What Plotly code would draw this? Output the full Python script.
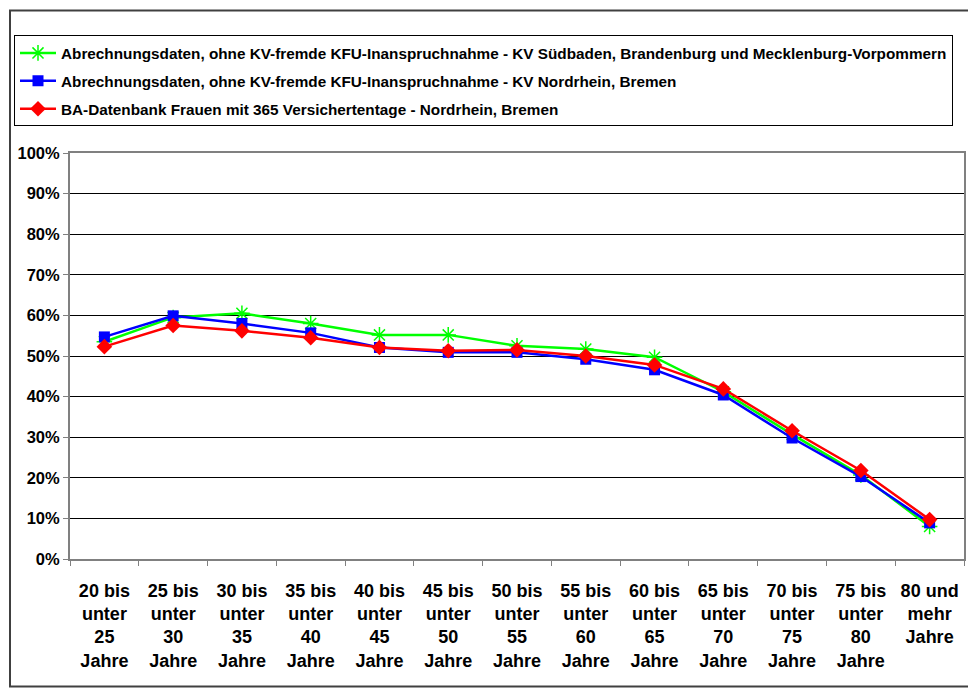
import plotly.graph_objects as go

categories = ["20 bis<br>unter<br>25<br>Jahre", "25 bis<br>unter<br>30<br>Jahre", "30 bis<br>unter<br>35<br>Jahre",
              "35 bis<br>unter<br>40<br>Jahre", "40 bis<br>unter<br>45<br>Jahre", "45 bis<br>unter<br>50<br>Jahre",
              "50 bis<br>unter<br>55<br>Jahre", "55 bis<br>unter<br>60<br>Jahre", "60 bis<br>unter<br>65<br>Jahre",
              "65 bis<br>unter<br>70<br>Jahre", "70 bis<br>unter<br>75<br>Jahre", "75 bis<br>unter<br>80<br>Jahre",
              "80 und<br>mehr<br>Jahre"]

green_name = "Abrechnungsdaten, ohne KV-fremde KFU-Inanspruchnahme - KV Südbaden, Brandenburg und Mecklenburg-Vorpommern"
blue_name = "Abrechnungsdaten, ohne KV-fremde KFU-Inanspruchnahme - KV Nordrhein, Bremen"
red_name = "BA-Datenbank Frauen mit 365 Versichertentage - Nordrhein, Bremen"

green_vals = [0.535, 0.595, 0.605, 0.580, 0.552, 0.552, 0.525, 0.517, 0.497, 0.412, 0.307, 0.207, 0.080]
blue_vals = [0.547, 0.599, 0.580, 0.557, 0.521, 0.509, 0.509, 0.492, 0.466, 0.404, 0.298, 0.203, 0.089]
red_vals = [0.523, 0.575, 0.562, 0.545, 0.521, 0.513, 0.515, 0.500, 0.478, 0.419, 0.316, 0.218, 0.097]

y_ticks = [0, 0.1, 0.2, 0.3, 0.4, 0.5, 0.6, 0.7, 0.8, 0.9, 1.0]

fig = go.Figure()
fig.add_trace(go.Scatter(x=categories, y=green_vals, name=green_name, mode="lines+markers",
                         legendgroup="g",
                         line=dict(color="#00FF00", width=2.5),
                         marker=dict(symbol="asterisk-open", size=13, color="#00FF00",
                                     line=dict(color="#00FF00", width=1.5))))
fig.add_trace(go.Scatter(x=categories, y=blue_vals, name=blue_name, mode="lines+markers",
                         legendgroup="b",
                         line=dict(color="#0000FF", width=2.5),
                         marker=dict(symbol="square", size=11, color="#0000FF")))
fig.add_trace(go.Scatter(x=categories, y=red_vals, name=red_name, mode="lines+markers",
                         legendgroup="r",
                         line=dict(color="#FF0000", width=2.5),
                         marker=dict(symbol="diamond", size=12, color="#FF0000")))

# page body has an 8px margin -> shift everything by 8px
OFF = 8
W, H = 976 - OFF, 688 - OFF
L, R, T, B = 70 - OFF, 12, 152.7 - OFF, 128.7
pw = W - L - R
ph = H - T - B

def px(x):
    return (x - OFF - L) / pw

def py(y):
    return (H - B - (y - OFF)) / ph

FONT = "Liberation Sans, Arial"

fig.update_layout(
    width=W, height=H,
    margin=dict(l=L, r=R, t=T, b=B, autoexpand=False),
    paper_bgcolor="white", plot_bgcolor="white",
    font=dict(family=FONT, color="black"),
    showlegend=True,
    legend=dict(x=px(14), y=py(35), xanchor="left", yanchor="top",
                bordercolor="black", borderwidth=1, bgcolor="white",
                font=dict(size=15.3, family=FONT, weight="bold"),
                tracegroupgap=5, itemwidth=36),
    xaxis=dict(type="category", showgrid=False, showline=True, mirror=True,
               linecolor="#808080", linewidth=2, ticks="outside", ticklen=5,
               tickcolor="#808080", tickson="boundaries", ticklabelstandoff=14,
               tickfont=dict(size=18, weight="bold", family=FONT),
               range=[-0.5, len(categories) - 0.5]),
    yaxis=dict(range=[0, 1], tickvals=y_ticks, tickformat=".0%", showgrid=True,
               gridcolor="black", gridwidth=1, showline=True, mirror=True,
               linecolor="#808080", linewidth=2, ticks="outside", ticklen=5,
               tickcolor="#808080", zeroline=False,
               tickfont=dict(size=16.5, weight="bold", family=FONT)),
    shapes=[dict(type="rect", xref="paper", yref="paper",
                 x0=px(10), x1=px(975), y0=py(687), y1=py(10),
                 line=dict(color="#404040", width=2), fillcolor="rgba(0,0,0,0)", layer="below")],
)

fig.write_html("out.html")
